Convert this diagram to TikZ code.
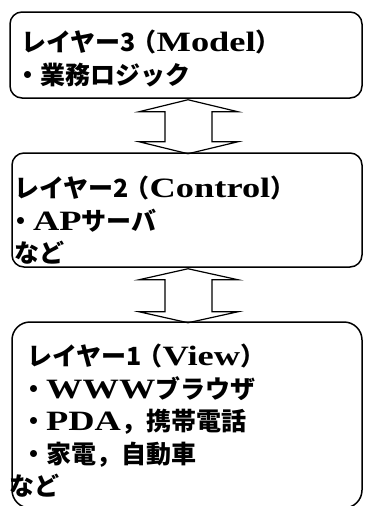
\documentclass[tikz,border=0pt]{standalone}
\usepackage{fontspec}
\setmainfont{Noto Sans CJK JP}
\newfontfamily\lat{Liberation Serif}[Scale=1.12, FakeStretch=1.3]
\usetikzlibrary{calc}

\begin{document}
\begin{tikzpicture}[x=1pt, y=-1pt,
    layer/.style={draw, line width=1.5pt, rounded corners=12pt, inner sep=0pt},
    body/.style={anchor=north west, inner sep=0pt, align=left,
        font=\bfseries\fontsize{25}{32.5}\selectfont},
    updown/.style={draw, line width=1.2pt, line join=miter}]
    \useasboundingbox (0,0) rectangle (365,506);

    % Boxes for the three layers
    \node[layer, minimum width=352pt, minimum height=86pt] (model) at (186,55) {};
    \node[layer, minimum width=350pt, minimum height=114pt] (control) at (187,210) {};
    \node[layer, rounded corners=18pt, minimum width=350pt, minimum height=186pt] (view) at (187,415) {};

    \node[body] (modeltext) at (21,30) {%
        レイヤー3\hspace{-4pt}（{\lat Model}）\\
        \hspace*{-6pt}・業務ロジック};
    \node[body] (controltext) at (14,176) {%
        レイヤー2\hspace{-4pt}（{\lat Control}）\\
        \hspace*{-6pt}・{\lat AP}サーバ\\
        など};
    \node[body] (viewtext) at (27,344) {%
        レイヤー1\hspace{-4pt}（{\lat View}）\\
        \hspace*{-6pt}・{\lat WWW}ブラウザ\\
        \hspace*{-6pt}・{\lat PDA}，携帯電話\\
        \hspace*{-6pt}・家電，自動車\\
        \hspace*{-18pt}など};

    % Double arrows between the layers
    \draw[updown] ($(model.south)+(2,1)$) -- ++(50,12) -- ++(-26,0) -- ++(0,30)
        -- ++(26,0) -- ++(-50,12) -- ++(-49,-12) -- ++(26,0) -- ++(0,-30)
        -- ++(-26,0) -- cycle;
    \draw[updown] ($(control.south)+(1,1)$) -- ++(50,11) -- ++(-26,0) -- ++(0,32)
        -- ++(26,0) -- ++(-50,11) -- ++(-49,-11) -- ++(26,0) -- ++(0,-32)
        -- ++(-26,0) -- cycle;
\end{tikzpicture}
\end{document}
